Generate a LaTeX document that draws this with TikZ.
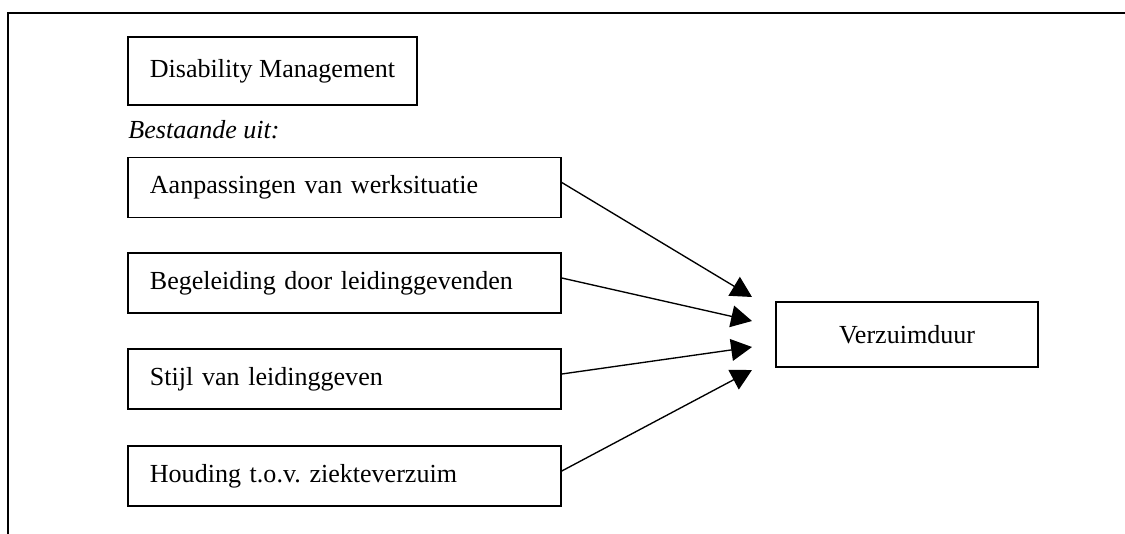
\documentclass[tikz,border=0pt]{standalone}
\usepackage{fontspec}
\setmainfont{Liberation Serif}
\usetikzlibrary{arrows.meta}
\frenchspacing

\begin{document}
\begin{tikzpicture}[x=0.48pt,y=-0.48pt]
\tikzset{every node/.append style={font=\fontsize{12.5}{14}\selectfont},
  vak/.style={draw=black,line width=0.8pt,rectangle,minimum height=28.8pt,
    inner xsep=10.5pt,inner ysep=0pt,align=left},
  breedvak/.style={vak,text width=186.8pt},
  pijl/.style={-{Triangle[length=10pt,width=10.5pt]},line width=0.65pt}}
\useasboundingbox (0,0) rectangle (1125,534);
\draw [black,line width=0.9pt] (8,534) -- (8,13) -- (1125,13);
\node [vak,minimum height=32.6pt] (dm) at (272.5,71) {\makebox[117.7pt][l]{Disability Management}};
\node [anchor=west,inner sep=0pt,font=\fontsize{12.5}{14}\selectfont\itshape] (uit) at (128,130) {Bestaande uit:};
\node [breedvak] (aanp) at (344.5,187.5) {Aanpassingen van werksituatie};
\node [breedvak] (begel) at (344.5,283) {Begeleiding door leidinggevenden};
\node [breedvak] (stijl) at (344.5,379) {Stijl van leidinggeven};
\node [breedvak] (houd) at (344.5,476) {Houding t.o.v. ziekteverzuim};
\node [vak,minimum width=125.8pt,minimum height=31.2pt] (verz) at (907,334.5) {Verzuimduur};
\coordinate (p1) at (752,297);
\coordinate (p2) at (752,321);
\coordinate (p3) at (752,347);
\coordinate (p4) at (752,370);
\draw [pijl] ([yshift=2.4pt]aanp.east) -- (p1);
\draw [pijl] ([yshift=2.4pt]begel.east) -- (p2);
\draw [pijl] ([yshift=2.4pt]stijl.east) -- (p3);
\draw [pijl] ([yshift=2.4pt]houd.east) -- (p4);
\end{tikzpicture}
\end{document}
